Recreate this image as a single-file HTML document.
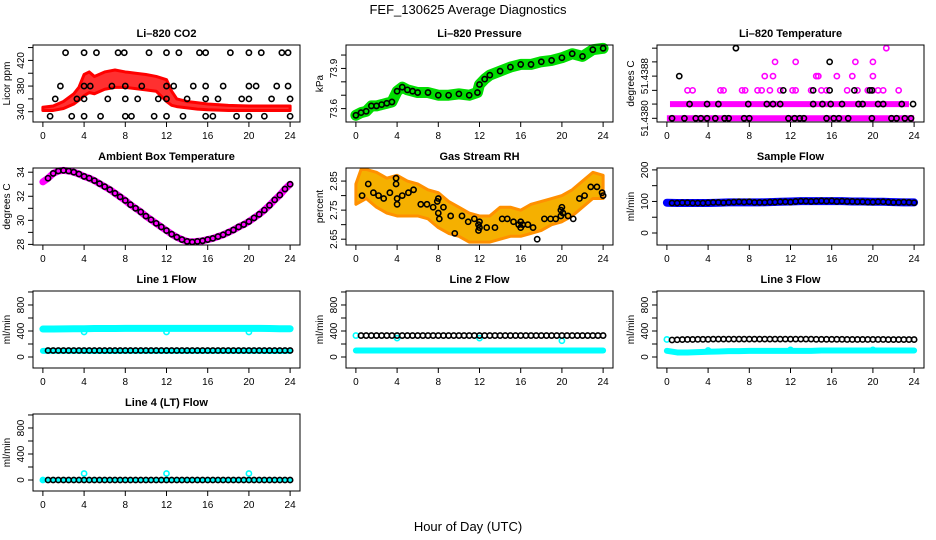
<!DOCTYPE html>
<html><head><meta charset="utf-8">
<style>
html,body{margin:0;padding:0;background:#fff;}
svg{display:block;font-family:"Liberation Sans",sans-serif;}
</style></head>
<body>
<svg id="chart" width="936" height="540" viewBox="0 0 936 540" xmlns="http://www.w3.org/2000/svg">
<rect width="936" height="540" fill="#fff"/>
<text x="468" y="14" font-size="13" text-anchor="middle">FEF_130625  Average Diagnostics</text>
<text x="468" y="531" font-size="13" text-anchor="middle">Hour of Day (UTC)</text>
</svg>
<script>
// ---- data ----
const xTicks = [0,4,8,12,16,20,24];
const halfHours = [0.5,1,1.5,2,2.5,3,3.5,4,4.5,5,5.5,6,6.5,7,7.5,8,8.5,9,9.5,10,10.5,11,11.5,12,12.5,13,13.5,14,14.5,15,15.5,16,16.5,17,17.5,18,18.5,19,19.5,20,20.5,21,21.5,22,22.5,23,23.5,24];

// CO2
const co2Hours = [0,1,2,3,3.5,4,4.5,5,6,7,8,9,10,11,12,12.5,13,14,15,16,18,20,22,24];
const co2Lo = [342,342,345,352,358,365,370,368,375,378,378,376,374,372,356,350,348,346,344,343,342,342,342,342];
const co2Hi = [347,349,356,368,378,398,402,395,402,405,402,400,398,395,390,372,360,356,354,352,350,349,349,349];
const co2BlackX = [2.2,4,5.2,7.3,7.9,10.3,12,13.2,15.2,15.8,18.2,20,21.2,23.2,23.8, 1.7,4,4.6,6.7,8,9.6,12,12.7,14.6,15.8,17.5,20,20.7,22.7,23.8, 1.2,3.3,4,6.3,8,9.2,11.2,12,14,15.8,17,19.3,20,22.2,24, 0.7,2.8,4,5.6,8,8.6,10.8,12,13.6,15.8,16.5,18.8,20,21.5,24];
const co2BlackY = [432,432,432,432,432,432,432,432,432,432,432,432,432,432,432, 380,380,380,380,380,380,380,380,380,380,380,380,380,380,380, 360,360,360,360,360,360,360,360,360,360,360,360,360,360,360, 333,333,333,333,333,333,333,333,333,333,333,333,333,333,333];

// Pressure
const pressHours = [0,0.5,1,1.5,2,2.5,3,3.5,4,4.5,5,5.5,6,7,8,9,10,11,11.8,12,12.5,13,14,15,16,17,18,19,20,21,22,23,24];
const pressVals = [73.55,73.57,73.58,73.62,73.62,73.63,73.64,73.65,73.73,73.76,73.74,73.73,73.72,73.72,73.70,73.70,73.71,73.70,73.72,73.78,73.82,73.85,73.88,73.91,73.93,73.93,73.95,73.96,73.98,74.01,73.99,74.04,74.05];

// Li-820 temperature (discrete levels)
const tempLevelVals = [51.4380,51.43827,51.43853,51.4388,51.43907,51.43933];
const tempBandStart = [0,0.3];
const tempBandEnd = [24,23.5];
const tempBandY = [51.4380,51.43827];
const tempMagX = [2,2.5,5.2,5.5,7.3,7.6,8.8,9.2,10,11,12.2,12.5,14,15,15.5,17.5,18.5,19.5,20,20.5,21,22.5, 9.5,10.3,14.5,14.7,16.5,18,20, 10.5,12.5,18.3,20, 21.3];
const tempMagY = [51.43853,51.43853,51.43853,51.43853,51.43853,51.43853,51.43853,51.43853,51.43853,51.43853,51.43853,51.43853,51.43853,51.43853,51.43853,51.43853,51.43853,51.43853,51.43853,51.43853,51.43853,51.43853, 51.4388,51.4388,51.4388,51.4388,51.4388,51.4388,51.4388, 51.43907,51.43907,51.43907,51.43907, 51.43933];
const tempBlackX = [0.5,1.7,2.8,3.3,3.9,4.7,5.6,6,7.5,8,11.8,12.4,12.9,13.3,15.5,16.2,16.7,17.6,19.9,21.8,22.3,23.1,23.7, 2.2,3.9,5,7.9,9.7,10.3,11,14.2,15.1,15.9,17,18.6,19,20.5,21,22.8,23.9, 11.3,14.2,15.8,18.2,19.7,19.9, 1.2, 15.8, 6.7];
const tempBlackY = [51.4380,51.4380,51.4380,51.4380,51.4380,51.4380,51.4380,51.4380,51.4380,51.4380,51.4380,51.4380,51.4380,51.4380,51.4380,51.4380,51.4380,51.4380,51.4380,51.4380,51.4380,51.4380,51.4380, 51.43827,51.43827,51.43827,51.43827,51.43827,51.43827,51.43827,51.43827,51.43827,51.43827,51.43827,51.43827,51.43827,51.43827,51.43827,51.43827,51.43827, 51.43853,51.43853,51.43853,51.43853,51.43853,51.43853, 51.4388, 51.43907, 51.43933];

// Ambient box temperature
const ambHours = [0,0.5,1,1.5,2,2.5,3,3.5,4,4.5,5,5.5,6,6.5,7,7.5,8,8.5,9,9.5,10,10.5,11,11.5,12,12.5,13,13.5,14,14.5,15,15.5,16,16.5,17,17.5,18,18.5,19,19.5,20,20.5,21,21.5,22,22.5,23,23.5,24];
const ambVals = [33.2,33.5,33.9,34.1,34.15,34.1,34.0,33.85,33.65,33.5,33.3,33.05,32.8,32.55,32.25,31.95,31.65,31.3,31.0,30.7,30.35,30.05,29.75,29.45,29.15,28.85,28.6,28.4,28.25,28.2,28.25,28.3,28.4,28.5,28.65,28.8,29.0,29.2,29.45,29.65,29.9,30.2,30.5,30.85,31.25,31.7,32.1,32.6,33.0];

// Gas stream RH
const rhHours = [0,0.5,1,2,3,4,5,6,7,8,9,10,11,12,13,14,15,16,17,18,19,20,21,22,23,24];
const rhLo = [2.77,2.78,2.79,2.76,2.74,2.73,2.73,2.73,2.72,2.69,2.67,2.66,2.64,2.64,2.64,2.65,2.66,2.66,2.67,2.68,2.70,2.71,2.73,2.76,2.79,2.79];
const rhHi = [2.84,2.89,2.89,2.88,2.86,2.87,2.85,2.84,2.82,2.81,2.78,2.76,2.74,2.73,2.73,2.76,2.76,2.75,2.77,2.78,2.79,2.80,2.82,2.85,2.88,2.87];
const rhBlackX = [0.6,1.2,1.7,2.2,2.7,3.3,3.9,3.9,4,4,4.5,5.1,5.6,6.3,6.9,7.5,7.9,8,8,8.1,8.5,9.2,9.6,10.3,10.9,11.5,11.9,11.9,12,12,12.7,13.5,14.2,14.7,15.3,15.8,16,16,16.2,16.7,17.2,17.6,18.3,18.9,19.4,19.9,19.9,20,20.1,20.6,21.1,21.7,22.2,22.8,23.4,23.9,24];
const rhBlackY = [2.80,2.84,2.81,2.80,2.79,2.81,2.86,2.84,2.79,2.77,2.80,2.81,2.82,2.77,2.77,2.76,2.78,2.79,2.74,2.72,2.76,2.73,2.67,2.73,2.71,2.72,2.70,2.68,2.69,2.71,2.69,2.69,2.72,2.72,2.71,2.70,2.71,2.69,2.70,2.70,2.69,2.65,2.72,2.72,2.72,2.73,2.75,2.76,2.74,2.73,2.72,2.79,2.80,2.83,2.83,2.81,2.80];

// Sample flow
const sfHours = [0,1,2,3,4,5,6,7,8,9,10,11,12,13,14,15,16,17,18,19,20,21,22,23,24];
const sfBlue = [96,95,95,95,95,96,97,97,97,97,98,99,100,101,101,101,101,101,100,100,99,99,98,97,97];
const sfBlack = [95,95,96,96,95,95,95,96,97,97,96,97,98,99,98,99,97,97,97,98,98,99,99,98,100,101,101,100,101,102,101,102,100,101,100,100,99,99,98,98,99,99,98,97,97,98,97,96];

// Line flows (black = half-hourly, cyan = hourly)
const flowHours = [0,1,2,3,4,5,6,7,8,9,10,11,12,13,14,15,16,17,18,19,20,21,22,23,24];
const l1Black = [100,100,100,100,100,100,100,100,100,100,100,100,100,100,100,100,100,100,100,100,100,100,100,100,100,100,100,100,100,100,100,100,100,100,100,100,100,100,100,100,100,100,100,100,100,100,100,100];
const l1CyanHigh = [430,430,432,435,435,438,438,438,440,440,440,440,440,440,440,440,440,440,440,440,440,440,438,435,435];
const l1CyanLow = [95,95,95,95,95,92,92,92,95,95,95,95,95,95,95,95,95,95,95,95,95,95,92,92,95];
const l1DipX = [4,12,20];
const l1DipY = [385,385,385];
const l2Black = [330,330,330,330,330,330,330,330,330,330,330,330,330,330,330,330,330,330,330,330,330,330,330,330,330,330,330,330,330,330,330,330,330,330,330,330,330,330,330,330,330,330,330,330,330,330,330,330];
const l2Cyan = [100,100,100,100,100,100,100,100,100,100,100,100,100,100,100,100,100,100,100,100,100,100,100,100,100];
const l2SpikeX = [0,4,12,20];
const l2SpikeY = [330,290,290,250];
const l3Black = [262,265,268,270,270,272,272,272,275,275,275,275,275,275,275,275,275,275,275,275,275,275,275,275,275,275,275,275,272,272,272,272,272,272,270,270,270,270,270,270,270,270,268,268,268,268,268,268];
const l3Cyan = [95,70,70,75,80,85,90,90,95,95,95,95,95,95,95,100,100,100,100,100,100,100,100,100,100];
const l3SpikeX = [0,4,12,20];
const l3SpikeY = [270,100,110,110];
const l4Black = [0,0,0,0,0,0,0,0,0,0,0,0,0,0,0,0,0,0,0,0,0,0,0,0,0,0,0,0,0,0,0,0,0,0,0,0,0,0,0,0,0,0,0,0,0,0,0,0];
const l4Cyan = [0,0,0,0,0,0,0,0,0,0,0,0,0,0,0,0,0,0,0,0,0,0,0,0,0];
const l4SpikeX = [0,4,12,20];
const l4SpikeY = [0,100,100,100];

// ---- drawing ----
const NS = "http://www.w3.org/2000/svg";
const svg = document.getElementById("chart");
function mk(tag, attrs, parent){
  const e = document.createElementNS(NS, tag);
  for (const k in attrs) e.setAttribute(k, attrs[k]);
  (parent||svg).appendChild(e);
  return e;
}
const colL = [33,346,657], rowT = [45,168,291,414], W = 267, H = 77;

function panel(col,row,title,ylab,ydom,yticks,ylabels,ylabelVals,name){
  const L = colL[col], T = rowT[row];
  const g = mk("g",{});
  
  
  const sx = v => L + (v - (-0.96)) / 25.92 * W;
  const sy = v => T + H - (v - ydom[0]) / (ydom[1]-ydom[0]) * H;
  const plot = mk("g",{},g);
  
  
  const t = mk("text",{x:L+W/2,y:T-8,"font-size":11,"font-weight":"bold","text-anchor":"middle"},g);
  t.textContent = title;
  
  
  const yl = mk("text",{x:0,y:0,"font-size":10,"text-anchor":"middle",transform:`translate(${L-23},${T+H/2}) rotate(-90)`},g);
  yl.textContent = ylab;
  
  
  // x axis
  const xa = mk("g",{},g);
  
  
  mk("line",{x1:sx(xTicks[0]),x2:sx(xTicks[xTicks.length-1]),y1:T+H,y2:T+H,stroke:"#000"},xa);
  xTicks.forEach(v=>{
    mk("line",{x1:sx(v),x2:sx(v),y1:T+H,y2:T+H+5,stroke:"#000"},xa);
    const tx = mk("text",{x:sx(v),y:T+H+17,"font-size":10,"text-anchor":"middle"},xa);
    tx.textContent = v;
  });
  // y axis
  const ya = mk("g",{},g);
  
  
  mk("line",{x1:L,x2:L,y1:sy(yticks[0]),y2:sy(yticks[yticks.length-1]),stroke:"#000"},ya);
  yticks.forEach(v=> mk("line",{x1:L-5,x2:L,y1:sy(v),y2:sy(v),stroke:"#000"},ya));
  ylabelVals.forEach((v,i)=>{
    const tx = mk("text",{x:0,y:0,"font-size":10,"text-anchor":"middle",transform:`translate(${L-9},${sy(v)}) rotate(-90)`},ya);
    tx.textContent = ylabels[i];
  });
  const box = mk("rect",{x:L,y:T,width:W,height:H,fill:"none",stroke:"#000"},g);
  
  
  return {g:plot,sx,sy};
}
function circles(p,xs,ys,color,name,r,sw){
  const g = mk("g",{},p.g);
  
  
  xs.forEach((x,i)=>{
    const c = mk("circle",{cx:p.sx(x),cy:p.sy(ys[i]),r:r||2.6,fill:"none",stroke:color,"stroke-width":sw||1.6},g);
    
    
  });
}
function thickLine(p,xs,ys,color,w,name){
  const pl = mk("polyline",{points:xs.map((x,i)=>p.sx(x)+","+p.sy(ys[i])).join(" "),fill:"none",stroke:color,"stroke-width":w,"stroke-linejoin":"round","stroke-linecap":"round"},p.g);
  
  
}
function band(p,xs,lo,hi,fill,stroke,name){
  const pts = xs.map((x,i)=>p.sx(x)+","+p.sy(hi[i])).concat(xs.slice().reverse().map((x,j)=>p.sx(x)+","+p.sy(lo[xs.length-1-j])));
  const pg = mk("polygon",{points:pts.join(" "),fill:fill,stroke:stroke,"stroke-width":3,"stroke-linejoin":"round"},p.g);
  
  
}

// Panel 1 CO2
let p = panel(0,0,"Li\u2013820 CO2","Licor ppm",[324,444],[340,360,380,400,420,440],["340","380","420"],[340,380,420],"co2");
band(p,co2Hours,co2Lo,co2Hi,"#ff3030","#ff0000","co2-red-series");
circles(p,co2BlackX,co2BlackY,"#000","co2-black-series");

// Panel 2 Pressure
p = panel(1,0,"Li\u2013820 Pressure","kPa",[73.5,74.075],[73.6,73.7,73.8,73.9,74.0],["73.6","73.9"],[73.6,73.9],"pressure");
thickLine(p,pressHours,pressVals,"#00dd00",11,"pressure-green-series");
circles(p,pressHours,pressVals,"#000","pressure-black-series");

// Panel 3 Temperature
p = panel(2,0,"Li\u2013820 Temperature","degrees C",[51.43793,51.43939],tempLevelVals,["51.4380","51.4388"],[51.4380,51.4388],"li820-temp");
tempBandStart.forEach((s,i)=>{
  const ln = mk("line",{x1:p.sx(s),x2:p.sx(tempBandEnd[i]),y1:p.sy(tempBandY[i]),y2:p.sy(tempBandY[i]),stroke:"#ff00ff","stroke-width":6},p.g);
  
  
});
circles(p,tempMagX,tempMagY,"#ff00ff","li820-temp-magenta-series");
circles(p,tempBlackX,tempBlackY,"#000","li820-temp-black-series");

// Panel 4 Ambient
p = panel(0,1,"Ambient Box Temperature","degrees C",[27.95,34.35],[28,29,30,31,32,33,34],["28","30","32","34"],[28,30,32,34],"ambient-temp");
thickLine(p,ambHours,ambVals,"#ff00ff",7,"ambient-temp-magenta-series");
circles(p,ambHours.slice(1),ambVals.slice(1),"#000","ambient-temp-black-series");

// Panel 5 RH
p = panel(1,1,"Gas Stream RH","percent",[2.63,2.895],[2.65,2.70,2.75,2.80,2.85],["2.65","2.75","2.85"],[2.65,2.75,2.85],"rh");
band(p,rhHours,rhLo,rhHi,"#f5b000","#ff9000","rh-orange-series");
circles(p,rhBlackX,rhBlackY,"#000","rh-black-series");

// Panel 6 Sample flow
p = panel(2,1,"Sample Flow","ml/min",[-38,206],[0,50,100,150,200],["0","100","200"],[0,100,200],"sample-flow");
thickLine(p,sfHours,sfBlue,"#0000ff",8,"sample-flow-blue-series");
circles(p,halfHours,sfBlack,"#000","sample-flow-black-series");

const flowDom = [-169,1015], flowTicks = [0,200,400,600,800,1000], flowLab = ["0","400","800"], flowLabV = [0,400,800];
// Line 1
p = panel(0,2,"Line 1 Flow","ml/min",flowDom,flowTicks,flowLab,flowLabV,"line1-flow");
thickLine(p,flowHours,l1CyanHigh,"#00ffff",7,"line1-flow-cyan-high-series");
thickLine(p,flowHours,l1CyanLow,"#00ffff",6,"line1-flow-cyan-low-series");
circles(p,l1DipX,l1DipY,"#00ffff","line1-flow-cyan-dips");
circles(p,halfHours,l1Black,"#000","line1-flow-black-series");
// Line 2
p = panel(1,2,"Line 2 Flow","ml/min",flowDom,flowTicks,flowLab,flowLabV,"line2-flow");
thickLine(p,flowHours,l2Cyan,"#00ffff",6,"line2-flow-cyan-series");
circles(p,l2SpikeX,l2SpikeY,"#00ffff","line2-flow-cyan-points");
circles(p,halfHours,l2Black,"#000","line2-flow-black-series");
// Line 3
p = panel(2,2,"Line 3 Flow","ml/min",flowDom,flowTicks,flowLab,flowLabV,"line3-flow");
thickLine(p,flowHours,l3Cyan,"#00ffff",6,"line3-flow-cyan-series");
circles(p,l3SpikeX,l3SpikeY,"#00ffff","line3-flow-cyan-points");
circles(p,halfHours,l3Black,"#000","line3-flow-black-series");
// Line 4
p = panel(0,3,"Line 4 (LT) Flow","ml/min",flowDom,flowTicks,flowLab,flowLabV,"line4-flow");
thickLine(p,flowHours,l4Cyan,"#00ffff",4,"line4-flow-cyan-series");
circles(p,l4SpikeX,l4SpikeY,"#00ffff","line4-flow-cyan-points");
circles(p,halfHours,l4Black,"#000","line4-flow-black-series");
</script>
</body></html>
